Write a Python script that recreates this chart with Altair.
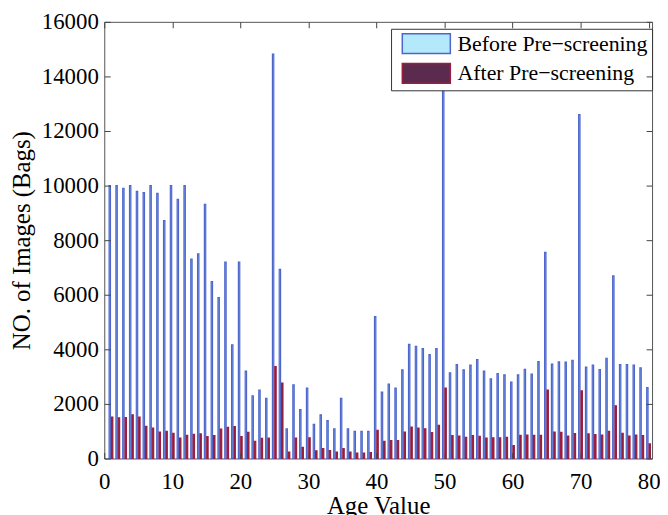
import altair as alt
import pandas as pd

# ---------------- data ----------------
ages = list(range(1, 81))
before = [10000, 10000, 9900, 10000, 9790, 9745, 10000, 9720, 8715, 10000,
          9500, 10000, 7310, 7500, 9310, 6485, 5900, 7200, 4160, 7200,
          3200, 2300, 2510, 2200, 14820, 6930, 1090, 2700, 1790, 2580,
          1250, 1600, 1390, 1090, 2200, 1090, 995, 995, 995, 5200,
          2435, 2730, 2580, 3250, 4180, 4110, 4025, 3805, 4025, 14900,
          3140, 3440, 3250, 3420, 3625, 3200, 2920, 3115, 3065, 2800,
          3065, 3270, 3090, 3550, 7550, 3455, 3540, 3530, 3600, 12600,
          3345, 3420, 3260, 3670, 6690, 3440, 3440, 3420, 3320, 2595]
after = [1515, 1490, 1500, 1600, 1515, 1175, 1115, 970, 995, 920,
         750, 850, 885, 900, 800, 840, 1080, 1140, 1165, 800,
         960, 630, 740, 750, 3370, 2760, 230, 750, 410, 760,
         280, 365, 290, 230, 365, 230, 195, 195, 220, 1030,
         630, 655, 655, 970, 1150, 1115, 1090, 945, 1210, 2580,
         835, 825, 775, 835, 810, 750, 760, 760, 775, 475,
         850, 860, 850, 850, 2510, 970, 960, 825, 910, 2475,
         900, 875, 860, 995, 1930, 920, 825, 860, 835, 535]
groups = ["Before Pre\u2212screening", "After Pre\u2212screening"]
x_ticks = list(range(0, 81, 10))
y_ticks = list(range(0, 16001, 2000))

# ---------------- style ----------------
fill_colors = ["#b3e9fb", "#5b2b4f"]
edge_colors = ["#4d66cc", "#9c1d3d"]
FONT = "Times New Roman, Liberation Serif, serif"
W, H = 552, 440
BAR_W = 0.2
OFFS = {groups[0]: -0.29, groups[1]: 0.06}

rows = []
for a, b, c in zip(ages, before, after):
    rows.append({"age": a, "group": groups[0], "value": b})
    rows.append({"age": a, "group": groups[1], "value": c})
df = pd.DataFrame(rows)
df["x0"] = df["age"] + df["group"].map(OFFS)
df["x1"] = df["x0"] + BAR_W
df["base"] = 0

xs = alt.Scale(domain=[0, 80.5], nice=False, zero=False)
ys = alt.Scale(domain=[0, 16000], nice=False)

leg = alt.Legend(
    title=None, orient="none", legendX=289, legendY=7, padding=4,
    fillColor="white", strokeColor="#333333", cornerRadius=0,
    labelFont=FONT, labelFontSize=22, labelColor="black", labelLimit=400,
    labelOffset=41, rowPadding=4,
    symbolType="M-0.46,-1.25H5.59V1.25H-0.46Z", symbolSize=256,
    symbolStrokeWidth=1.5, symbolOpacity=1,
)

bars = alt.Chart(df).mark_rect(strokeWidth=1.2, opacity=1).encode(
    x=alt.X("x0:Q", scale=xs, title="Age Value",
            axis=alt.Axis(orient="bottom", values=x_ticks, ticks=False, domain=False,
                          grid=False, labelPadding=12, titlePadding=0, labelFlush=False,
                          format="d")),
    x2="x1:Q",
    y=alt.Y("value:Q", scale=ys, title="NO. of Images (Bags)",
            axis=alt.Axis(orient="left", values=y_ticks, ticks=False, domain=False,
                          grid=False, labelPadding=6, titlePadding=7, labelFlush=False,
                          format="d")),
    y2="base:Q",
    fill=alt.Fill("group:N", scale=alt.Scale(domain=groups, range=fill_colors), legend=leg),
    stroke=alt.Stroke("group:N", scale=alt.Scale(domain=groups, range=edge_colors), legend=leg),
)


def tick_layer(xorient, yorient):
    return alt.Chart(df).mark_rect(opacity=0).encode(
        x=alt.X("x0:Q", scale=xs,
                axis=alt.Axis(orient=xorient, offset=-H, values=x_ticks, labels=False,
                              domain=False, grid=False, ticks=True, tickSize=6,
                              tickColor="#444444", title=None, zindex=1)),
        x2="x1:Q",
        y=alt.Y("value:Q", scale=ys,
                axis=alt.Axis(orient=yorient, offset=-W, values=y_ticks, labels=False,
                              domain=False, grid=False, ticks=True, tickSize=6,
                              tickColor="#444444", title=None, zindex=1)),
        y2="base:Q",
    )


chart = alt.layer(
    bars, tick_layer("top", "right"), tick_layer("bottom", "left")
).resolve_axis(
    x="independent", y="independent"
).properties(
    width=W, height=H,
    autosize=alt.AutoSizeParams(type="none"),
    padding={"left": 97, "top": 12, "right": 8, "bottom": 55},
).configure_view(
    stroke="#555555", strokeWidth=1
).configure_axis(
    labelFont=FONT, labelFontSize=23, labelColor="black",
    titleFont=FONT, titleFontSize=25, titleFontWeight="normal", titleColor="black",
)

chart.save("out.html", embed_options={"renderer": "svg", "actions": False})
